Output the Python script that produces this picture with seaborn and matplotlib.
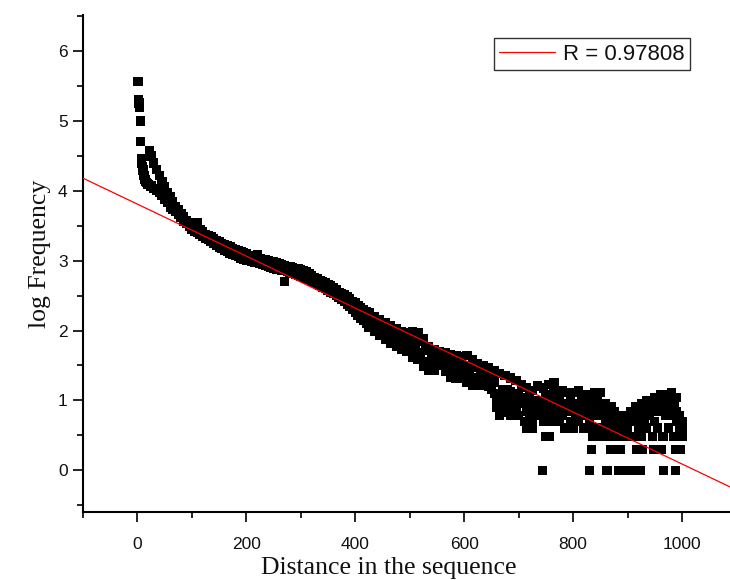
import numpy as np
import pandas as pd
import matplotlib
matplotlib.use("Agg")
import matplotlib.pyplot as plt
import seaborn as sns

# ---------------- data ----------------
head_x = [1, 2, 3, 4, 5, 6, 7, 8, 9, 10, 11, 12, 13, 14, 15, 16, 18, 20, 22]
head_y = [5.57, 5.31, 5.26, 5.19, 5.00, 4.71, 4.46, 4.40, 4.35, 4.30,
          4.26, 4.22, 4.19, 4.16, 4.14, 4.12, 4.10, 4.09, 4.58]

body_x = list(range(25, 1001, 5))
body_upper = [
    4.50, 4.40, 4.31, 4.22, 4.14, 4.06, 3.98, 3.92, 3.85, 3.78,
    3.73, 3.68, 3.63, 3.58, 3.55, 3.51, 3.48, 3.54, 3.44, 3.41,
    3.38, 3.36, 3.34, 3.31, 3.29, 3.27, 3.25, 3.23, 3.22, 3.20,
    3.18, 3.16, 3.15, 3.13, 3.11, 3.10, 3.08, 3.07, 3.06, 3.09,
    3.03, 3.02, 3.01, 3.00, 2.99, 2.98, 2.97, 2.96, 2.94, 2.93,
    2.92, 2.91, 2.90, 2.89, 2.88, 2.87, 2.86, 2.84, 2.82, 2.79,
    2.76, 2.74, 2.72, 2.70, 2.68, 2.66, 2.64, 2.61, 2.58, 2.55,
    2.53, 2.51, 2.48, 2.45, 2.42, 2.40, 2.36, 2.33, 2.30, 2.27,
    2.25, 2.14, 2.20, 2.10, 2.15, 2.06, 2.11, 2.02, 2.07, 1.98,
    2.03, 1.92, 1.99, 1.90, 1.97, 1.88, 1.98, 1.86, 1.97, 1.84,
    1.88, 1.72, 1.77, 1.66, 1.72, 1.62, 1.70, 1.60, 1.68, 1.58,
    1.66, 1.55, 1.64, 1.52, 1.63, 1.50, 1.64, 1.49, 1.58, 1.47,
    1.53, 1.42, 1.50, 1.38, 1.47, 1.36, 1.43, 1.05, 1.38, 0.95,
    1.36, 1.15, 1.32, 1.08, 1.28, 1.04, 1.23, 1.00, 1.18, 1.11,
    1.146, 0.954, 1.204, 1.000, 1.176, 1.041, 1.230, 1.079, 1.255, 1.114,
    1.041, 1.146, 0.954, 1.114, 1.000, 1.114, 0.954, 1.146, 1.041, 1.079,
    1.000, 1.079, 0.954, 1.114, 1.041, 1.114, 0.903, 0.954, 0.845, 0.903,
    0.845, 0.778, 0.699, 0.778, 0.699, 0.778, 0.845, 0.778, 0.903, 0.845,
    0.954, 0.903, 1.000, 0.954, 0.903, 1.041, 0.954, 1.079, 1.000, 1.079,
    1.000, 1.114, 0.954, 1.041, 0.778, 0.699,
]
body_lower = [
    4.07, 4.04, 4.01, 3.98, 3.93, 3.88, 3.83, 3.77, 3.73, 3.70,
    3.66, 3.62, 3.56, 3.53, 3.49, 3.45, 3.42, 3.40, 3.37, 3.35,
    3.32, 3.30, 3.27, 3.25, 3.22, 3.19, 3.17, 3.15, 3.13, 3.11,
    3.09, 3.07, 3.06, 3.04, 3.02, 3.01, 3.00, 2.99, 2.98, 2.97,
    2.96, 2.95, 2.93, 2.92, 2.91, 2.89, 2.88, 2.87, 2.86, 2.70,
    2.84, 2.83, 2.82, 2.80, 2.79, 2.78, 2.76, 2.75, 2.73, 2.71,
    2.69, 2.67, 2.65, 2.62, 2.60, 2.58, 2.55, 2.53, 2.50, 2.47,
    2.44, 2.42, 2.38, 2.34, 2.30, 2.26, 2.22, 2.18, 2.14, 2.10,
    2.05, 2.10, 1.99, 2.04, 1.93, 1.98, 1.87, 1.93, 1.81, 1.88,
    1.77, 1.84, 1.73, 1.80, 1.70, 1.77, 1.62, 1.72, 1.58, 1.68,
    1.48, 1.56, 1.43, 1.54, 1.43, 1.52, 1.50, 1.56, 1.42, 1.50,
    1.33, 1.42, 1.32, 1.44, 1.32, 1.40, 1.26, 1.36, 1.22, 1.33,
    1.22, 1.30, 1.21, 1.28, 1.20, 1.15, 1.25, 0.90, 0.78, 0.82,
    0.85, 0.95, 0.78, 0.90, 0.85, 0.78, 0.95, 0.70, 0.845, 0.78,
    0.699, 0.845, 0.778, 0.903, 0.699, 0.778, 0.845, 0.699, 0.778, 0.903,
    0.699, 0.778, 0.602, 0.845, 0.699, 0.602, 0.778, 0.699, 0.845, 0.602,
    0.602, 0.699, 0.477, 0.602, 0.778, 0.477, 0.602, 0.699, 0.477, 0.602,
    0.477, 0.602, 0.477, 0.602, 0.477, 0.602, 0.477, 0.699, 0.477, 0.602,
    0.477, 0.699, 0.602, 0.778, 0.477, 0.699, 0.602, 0.845, 0.477, 0.778,
    0.602, 0.778, 0.477, 0.699, 0.602, 0.477,
]

tail_x = list(range(640, 1001, 5))
tail_mid = [
    1.35, 1.30, 1.32, 1.10, 1.00, 0.90, 1.15, 1.05, 0.95, 1.12,
    1.000, 0.900, 1.100, 0.954, 1.041, 0.903, 1.079, 0.954, 1.000, 0.903,
    1.000, 0.954, 1.079, 0.903, 1.000, 1.146, 0.954, 1.041, 0.903, 0.954,
    0.903, 0.954, 0.845, 0.903, 0.954, 0.778, 0.903, 0.845, 0.778, 0.845,
    0.903, 0.845, 0.954, 0.778, 0.699, 0.778, 0.699, 0.602, 0.699, 0.602,
    0.602, 0.699, 0.602, 0.699, 0.778, 0.699, 0.778, 0.845, 0.778, 0.903,
    0.845, 0.903, 0.954, 0.845, 0.903, 1.000, 0.903, 0.954, 0.845, 0.903,
    0.845, 0.699, 0.602,
]

low_x = [715, 726, 744, 749, 756, 830, 833, 838, 845, 862,
         869, 883, 886, 891, 899, 907, 915, 916, 924, 927,
         948, 962, 966, 988, 988, 997]
low_y = [0.602, 0.602, 0.0, 0.477, 0.477, 0.0, 0.301, 0.477, 0.477, 0.0,
         0.301, 0.0, 0.301, 0.0, 0.0, 0.0, 0.0, 0.301, 0.0, 0.301,
         0.301, 0.301, 0.0, 0.0, 0.301, 0.301]

fit_intercept = 3.81
fit_slope = -0.003723
fit_label = "R = 0.97808"

x_ticks = [0, 200, 400, 600, 800, 1000]
y_ticks = [0, 1, 2, 3, 4, 5, 6]

# ---------------- figure ----------------
df = pd.concat([
    pd.DataFrame({"x": head_x, "y": head_y}),
    pd.DataFrame({"x": body_x, "y": body_upper}),
    pd.DataFrame({"x": body_x, "y": body_lower}),
    pd.DataFrame({"x": tail_x, "y": tail_mid}),
    pd.DataFrame({"x": low_x, "y": low_y}),
], ignore_index=True)

sns.set_theme(style="ticks")
plt.rcParams["font.family"] = ["Liberation Sans", "DejaVu Sans"]

fig = plt.figure(figsize=(7.3, 5.8), dpi=100)
ax = fig.add_axes([83 / 730, (580 - 512) / 580, (730 - 83) / 730, (512 - 15) / 580])

sns.scatterplot(data=df, x="x", y="y", marker="s", s=44, color="black",
                edgecolor="none", linewidth=0, legend=False, ax=ax, zorder=2)

line = ax.axline((0, fit_intercept), slope=fit_slope, color="#ff0000",
                 linewidth=0.9, zorder=3, label=fit_label)

ax.set_xlim(-100, 1088)
ax.set_ylim(-0.6, 6.52)

ax.set_xticks(x_ticks)
ax.set_xticks([-100, 100, 300, 500, 700, 900], minor=True)
ax.set_yticks(y_ticks)
ax.set_yticks([-0.5, 0.5, 1.5, 2.5, 3.5, 4.5, 5.5, 6.5], minor=True)
ax.set_xticklabels([str(v) for v in x_ticks])
ax.set_yticklabels([str(v) for v in y_ticks])

ax.tick_params(axis="both", which="major", direction="out", length=7, width=1.2,
               color="black", labelsize=12.5, labelcolor="#111111")
ax.tick_params(axis="both", which="minor", direction="out", length=4.2, width=1.2,
               color="black")
ax.tick_params(axis="x", which="major", pad=11)
ax.tick_params(axis="y", which="major", pad=4)

for side in ["top", "right"]:
    ax.spines[side].set_visible(False)
for side in ["left", "bottom"]:
    ax.spines[side].set_linewidth(1.5)
    ax.spines[side].set_color("black")

ax.set_xlabel("Distance in the sequence", fontfamily="Liberation Serif",
              fontsize=18.5, color="#111111")
ax.set_ylabel("log Frequency", fontfamily="Liberation Serif",
              fontsize=18.5, color="#111111")
ax.xaxis.label.set_verticalalignment("baseline")
ax.xaxis.set_label_coords(0.473, -(574 - 512) / 497)
ax.yaxis.set_label_coords(-0.05, 0.52)

leg = ax.legend(handles=[line], loc="upper right",
                bbox_to_anchor=(690 / 730, 1 - 38 / 580),
                bbox_transform=fig.transFigure, borderaxespad=0,
                fontsize=16, frameon=True, fancybox=False, shadow=False,
                handlelength=2.5, handletextpad=0.35, borderpad=0.25,
                framealpha=1)
leg.get_frame().set_edgecolor("#333333")
leg.get_frame().set_linewidth(1.0)
for t in leg.get_texts():
    t.set_color("#111111")

fig.savefig("out.png", dpi=100, facecolor="white")
